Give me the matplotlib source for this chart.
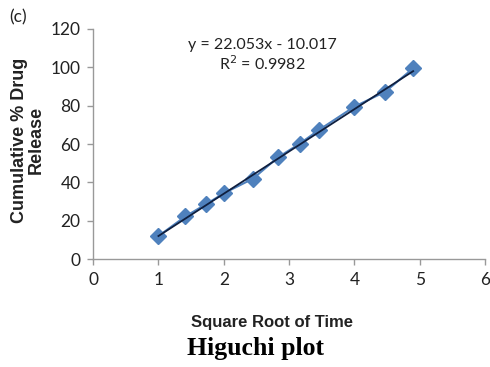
import matplotlib
matplotlib.use("Agg")
import matplotlib.pyplot as plt
import numpy as np

# Higuchi model: cumulative release vs square root of time
sqrt_time = [1.0, 1.414, 1.732, 2.0, 2.449, 2.828, 3.162, 3.464, 4.0, 4.472, 4.899]
release = [12.0, 22.3, 28.7, 34.3, 42.0, 53.0, 60.2, 67.5, 79.5, 87.3, 99.5]
slope, intercept = 22.053, -10.017
r_squared = 0.9982

narrow = ['Lato', 'DejaVu Sans']
arial = ['Liberation Sans', 'DejaVu Sans']

fig = plt.figure(figsize=(4.9, 3.67), dpi=100)
ax = fig.add_axes([0.19, 0.294, 0.8, 0.627])

ax.plot(sqrt_time, release, linestyle='-', color='#4F81BD', lw=1.5,
        marker='D', markersize=8, markerfacecolor='#4F81BD',
        markeredgecolor='#4F81BD', zorder=3)
fit_x = np.array([sqrt_time[0], sqrt_time[-1]])
ax.plot(fit_x, slope * fit_x + intercept, color='#0F1F3F', lw=1.3, zorder=4)

ax.set_xlim(0, 6)
ax.set_ylim(0, 120)
ax.set_xticks(range(0, 7))
ax.set_yticks(range(0, 121, 20))
for s in ['top', 'right']:
    ax.spines[s].set_visible(False)
for s in ['left', 'bottom']:
    ax.spines[s].set_color('#999999')
    ax.spines[s].set_linewidth(1.0)
ax.tick_params(direction='out', length=4, color='#999999', width=1.0,
               labelsize=12.5, labelcolor='#222222', pad=5)
for lbl in ax.get_xticklabels() + ax.get_yticklabels():
    lbl.set_family(narrow)

fig.text(28 / 490, 1 - 140 / 367, 'Cumulative % Drug\nRelease', rotation=90,
         ha='center', va='center', fontsize=13, fontweight='bold',
         family=arial, color='#222222', linespacing=1.0)
fig.text(272 / 490, 1 - 323 / 367, 'Square Root of Time', ha='center',
         va='center', fontsize=12, fontweight='bold', family=arial,
         color='#222222')
fig.text(255 / 490, 1 - 348 / 367, 'Higuchi plot', ha='center', va='center',
         fontsize=18.5, fontweight='bold', family=['Liberation Serif', 'DejaVu Serif'],
         color='black')
fig.text(18 / 490, 1 - 17 / 367, '(c)', ha='center', va='center',
         fontsize=12.5, family=narrow, color='#222222')
fig.text(262 / 490, 1 - 45 / 367, f'y = {slope}x - {abs(intercept)}',
         ha='center', va='center', fontsize=11.5, family=narrow, color='#222222')
fig.text(262 / 490, 1 - 64 / 367, f'R$^2$ = {r_squared}',
         ha='center', va='center', fontsize=11.5, family=narrow, color='#222222')

fig.savefig('out.png', dpi=100)
